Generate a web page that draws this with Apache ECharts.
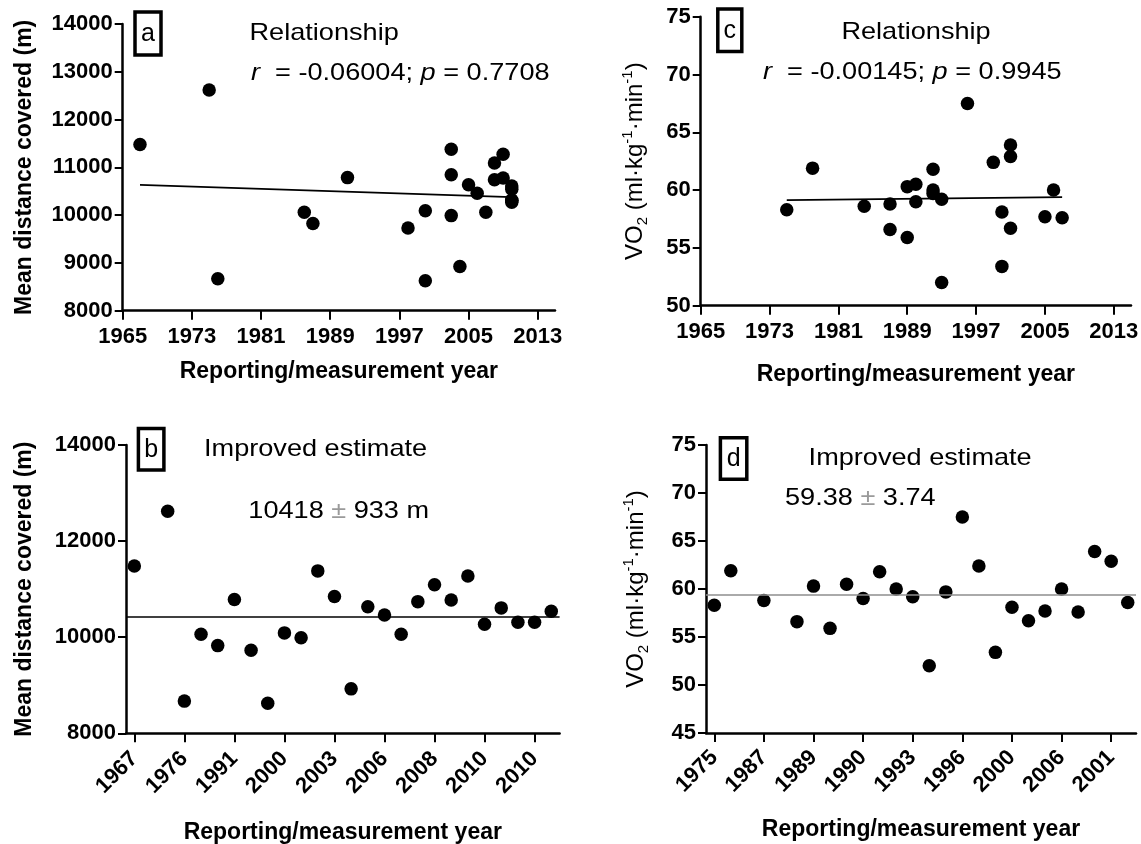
<!DOCTYPE html>
<html>
<head>
<meta charset="utf-8">
<script src="https://cdn.jsdelivr.net/npm/echarts@6/dist/echarts.min.js"></script>
<style>
html,body{margin:0;padding:0;background:#fff;}
#chart{width:1141px;height:844px;}
</style>
</head>
<body>
<div id="chart"></div>
<script>
// ---- data ----
const distYears = ['1967','','1975','1976','1986','1987','1991','1998','2000','2000','2003','2003','2003','2004','2005','2006','2007','2008','2008','2009','2009','2010','2010','2010','2010','2010'];
const distValues = [11480,null,12620,8670,10060,9825,10785,9730,8625,10090,9990,11380,10845,8925,10635,10460,10060,10740,11090,10775,11275,10270,10610,10310,10310,10540];
const distFit = [[1967,10632],[2010,10376]];
const distMean = 10418;
const distSD = 933;

const vo2Years = ['1975','1978','','1987','','1987','1989','1989','1990','1990','1992','1992','1993','1993','1992','1996','1999','2000','2000','2001','2005','2006','2007','2001','2001','1984'];
const vo2Values = [58.3,61.9,null,58.8,null,56.6,60.3,55.9,60.5,59.0,61.8,60.0,59.2,52.0,59.7,67.5,62.4,53.4,58.1,56.7,57.7,60.0,57.6,63.9,62.9,58.6];
const vo2Fit = [[1975,59.13],[2007,59.4]];
const vo2Mean = 59.38;
const vo2SD = 3.74;

const yearTicks = [1965,1973,1981,1989,1997,2005,2013];

// ---- helpers ----
const FONT = '"Liberation Sans", Arial, Helvetica, sans-serif';
const toPairs = (years, vals) => years.map((y,i)=>[Number(y), vals[i]]).filter(p => p[0] && p[1] != null);

const axisLine = {show:true, lineStyle:{color:'#000', width:2.5}};
const tickLabel = {color:'#000', fontFamily:FONT, fontWeight:'bold', fontSize:22, formatter: v => String(v)};

function yAxis(grid, min, max, interval, name, gap, nameStyle){
  return {
    type:'value', gridIndex:grid, min, max, interval,
    axisLine, splitLine:{show:false},
    axisTick:{show:true, length:8, lineStyle:{color:'#000', width:2}},
    axisLabel:Object.assign({}, tickLabel, {margin:10}),
    name, nameLocation:'middle', nameGap:gap,
    nameTextStyle:nameStyle
  };
}
const titleBold = {color:'#000', fontFamily:FONT, fontWeight:'bold', fontSize:23};
const vo2Name = 'VO{sub|2} (ml·kg{sup|-1}·min{sup|-1})';
const vo2Style = {color:'#000', fontFamily:FONT, fontWeight:'normal', fontSize:24,
  rich:{
    sub:{fontSize:15, fontFamily:FONT, color:'#000', verticalAlign:'bottom', lineHeight:30},
    sup:{fontSize:15, fontFamily:FONT, color:'#000', verticalAlign:'top', lineHeight:30}
  }};

function xValueAxis(grid, gap){
  return {
    type:'value', gridIndex:grid, min:1965, max:2015,
    axisLine:{show:true, onZero:false, lineStyle:{color:'#000', width:2.5}}, splitLine:{show:false},
    axisTick:{show:true, length:9, customValues:yearTicks, lineStyle:{color:'#000', width:2}},
    axisLabel:Object.assign({}, tickLabel, {margin:15, customValues:yearTicks}),
    name:'Reporting/measurement year', nameLocation:'middle', nameGap:gap, nameTextStyle:titleBold
  };
}
function xCatAxis(grid, cats, gap, margin){
  return {
    type:'category', gridIndex:grid, data:cats, boundaryGap:true,
    axisLine:{show:true, onZero:false, lineStyle:{color:'#000', width:2.5}}, splitLine:{show:false},
    axisTick:{show:true, length:9, interval:2, alignWithLabel:true, lineStyle:{color:'#000', width:2}},
    axisLabel:Object.assign({}, tickLabel, {margin:margin, interval:2, rotate:45}),
    name:'Reporting/measurement year', nameLocation:'middle', nameGap:gap, nameTextStyle:titleBold
  };
}

const dot = {type:'scatter', symbol:'circle', symbolSize:13.5, itemStyle:{color:'#000', opacity:1}, silent:true, z:3};

function box(x, y, w, h, letter){
  return [
    {type:'rect', shape:{x, y, width:w, height:h}, style:{fill:'#fff', stroke:'#000', lineWidth:3.5}, z:10},
    {type:'text', x:x+w/2, y:y+h/2+1, z:11,
      style:{text:letter, fill:'#000', fontSize:25, fontFamily:FONT, align:'center', textAlign:'center', verticalAlign:'middle', textVerticalAlign:'middle'}}
  ];
}
function ann(x, y, text, rich){
  return {type:'text', x, y, scaleX:1.13, z:11,
    style:{text, rich, fill:'#000', fontSize:24, fontFamily:FONT, align:'left', textAlign:'left', verticalAlign:'middle', textVerticalAlign:'middle'}};
}
const itRich = {i:{fontStyle:'italic', fontSize:24, fontFamily:FONT, fill:'#000', color:'#000'}};
const pmRich = {g:{fontSize:24, fontFamily:FONT, fill:'#9a9a9a', color:'#9a9a9a'}};

const option = {
  backgroundColor:'#fff',
  animation:false,
  grid:[
    {left:122.7, top:24, width:432.3, height:286.7, outerBoundsMode:'none'},
    {left:700.7, top:16.7, width:430.3, height:289, outerBoundsMode:'none'},
    {left:126, top:445, width:433.6, height:288.3, outerBoundsMode:'none'},
    {left:706, top:445, width:430, height:288, outerBoundsMode:'none'}
  ],
  xAxis:[
    xValueAxis(0, 49),
    xValueAxis(1, 57),
    xCatAxis(2, distYears, 88, 22),
    xCatAxis(3, vo2Years, 85, 21)
  ],
  yAxis:[
    yAxis(0, 8000, 14000, 1000, 'Mean distance covered (m)', 87, titleBold),
    yAxis(1, 50, 75, 5, vo2Name, 50, vo2Style),
    yAxis(2, 8000, 14000, 2000, 'Mean distance covered (m)', 90, titleBold),
    yAxis(3, 45, 75, 5, vo2Name, 55, vo2Style)
  ],
  series:[
    Object.assign({}, dot, {xAxisIndex:0, yAxisIndex:0, data:toPairs(distYears, distValues)}),
    {type:'line', xAxisIndex:0, yAxisIndex:0, data:distFit, symbol:'none', silent:true, lineStyle:{color:'#000', width:1.8}, z:2},
    Object.assign({}, dot, {xAxisIndex:1, yAxisIndex:1, data:toPairs(vo2Years, vo2Values)}),
    {type:'line', xAxisIndex:1, yAxisIndex:1, data:vo2Fit, symbol:'none', silent:true, lineStyle:{color:'#000', width:1.8}, z:2},
    Object.assign({}, dot, {xAxisIndex:2, yAxisIndex:2, data:distValues,
      markLine:{silent:true, symbol:['none','none'], label:{show:false}, lineStyle:{color:'#000', width:1.7, type:'solid'}, data:[{yAxis:distMean}]}}),
    Object.assign({}, dot, {xAxisIndex:3, yAxisIndex:3, data:vo2Values,
      markLine:{silent:true, symbol:['none','none'], label:{show:false}, lineStyle:{color:'#8e8e8e', width:1.7, type:'solid'}, data:[{yAxis:vo2Mean}]}})
  ],
  graphic:{elements:[].concat(
    box(135, 12, 26, 43, 'a'),
    box(717.8, 9, 24, 42.5, 'c'),
    box(138.4, 428.5, 25.5, 41.5, 'b'),
    box(720.4, 437.8, 26.4, 41.5, 'd'),
    [
      ann(249.5, 33, 'Relationship'),
      ann(251, 73, '{i|r}  = -0.06004; {i|p} = 0.7708', itRich),
      ann(841.4, 32.3, 'Relationship'),
      ann(763, 72.7, '{i|r}  = -0.00145; {i|p} = 0.9945', itRich),
      ann(204, 449.3, 'Improved estimate'),
      ann(248.3, 511.7, distMean + ' {g|±} ' + distSD + ' m', pmRich),
      ann(808.6, 458.3, 'Improved estimate'),
      ann(785, 498.3, vo2Mean.toFixed(2) + ' {g|±} ' + vo2SD.toFixed(2), pmRich)
    ]
  )}
};

const chart = echarts.init(document.getElementById('chart'), null, {renderer:'canvas'});
chart.setOption(option);
</script>
</body>
</html>
